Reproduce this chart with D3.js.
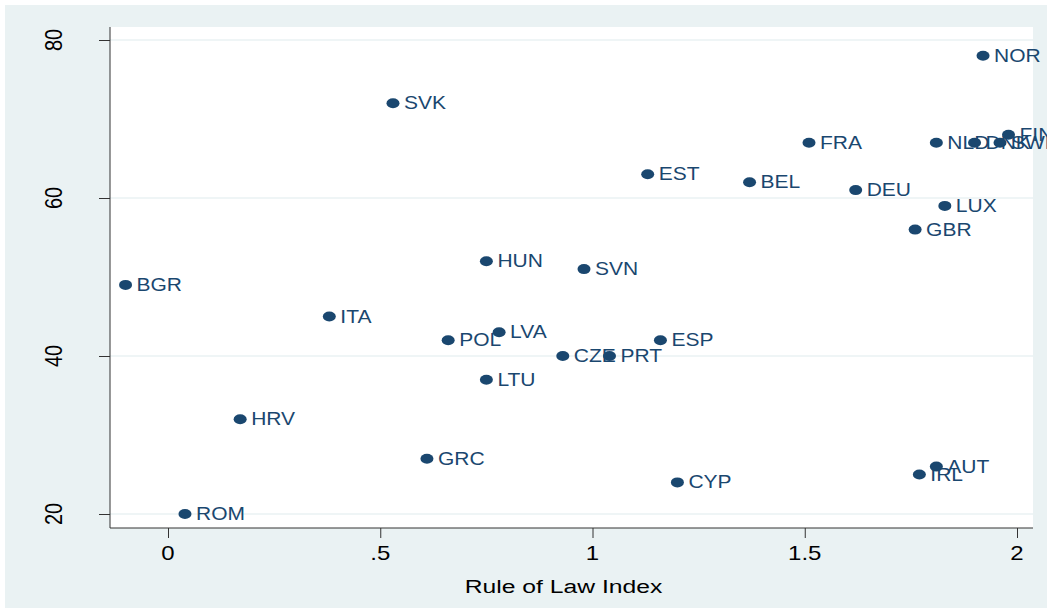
<!DOCTYPE html>
<html>
<head>
<meta charset="utf-8">
<script src="https://cdn.jsdelivr.net/npm/d3@7"></script>
<style>
  body { margin: 0; background: #fff; }
  text { font-family: Arial, "Liberation Sans", sans-serif; }
</style>
</head>
<body>
<div id="chart"></div>
<script>
// data
var countries = ["NOR","SVK","FIN","NLD","DNK","SWE","FRA","EST","BEL","DEU","LUX","GBR","HUN","SVN","BGR","ITA","LVA","POL","ESP","CZE","PRT","LTU","HRV","GRC","AUT","IRL","CYP","ROM"];
var lawIndex  = [1.92, 0.53, 1.98, 1.81, 1.90, 1.96, 1.51, 1.13, 1.37, 1.62, 1.83, 1.76, 0.75, 0.98, -0.10, 0.38, 0.78, 0.66, 1.16, 0.93, 1.04, 0.75, 0.17, 0.61, 1.81, 1.77, 1.20, 0.04];
var score     = [78, 72, 68, 67, 67, 67, 67, 63, 62, 61, 59, 56, 52, 51, 49, 45, 43, 42, 42, 40, 40, 37, 32, 27, 26, 25, 24, 20];
var xTicks = [0, 0.5, 1, 1.5, 2];
var xTickLabels = ["0", ".5", "1", "1.5", "2"];
var yTicks = [20, 40, 60, 80];

var W = 1047, H = 608;
var plot = {left: 110, top: 27, right: 1033, bottom: 528};
var navy = "#1a476f", bg = "#eaf2f3";
var sx = 1.2; // horizontal stretch of the original export

var x = d3.scaleLinear().domain([0, 2]).range([168, 1017]);
var y = d3.scaleLinear().domain([20, 80]).range([514, 40]);

var svg = d3.select("#chart").append("svg")
    .attr("width", W)
    .attr("height", H);

// graph region background
svg.append("rect")
    .attr("x", 5).attr("y", 5)
    .attr("width", W - 5).attr("height", H - 5)
    .attr("fill", bg);

// plot region
svg.append("rect")
    .attr("x", plot.left).attr("y", plot.top)
    .attr("width", plot.right - plot.left)
    .attr("height", plot.bottom - plot.top)
    .attr("fill", "#fff");

// gridlines
svg.selectAll(".grid").data(yTicks).enter().append("line")
    .attr("x1", plot.left).attr("x2", plot.right)
    .attr("y1", function(d) { return y(d); })
    .attr("y2", function(d) { return y(d); })
    .attr("stroke", bg)
    .attr("stroke-width", 1.5);

// Y axis
var yAxis = svg.append("g")
    .attr("transform", "translate(" + plot.left + ",0)")
    .call(d3.axisLeft(y).tickValues(yTicks).tickSize(11).tickPadding(0).tickFormat(""));
yAxis.select(".domain").attr("d", "M0," + plot.top + "V" + plot.bottom);
yAxis.selectAll("line").attr("stroke", "#333");
yAxis.select(".domain").attr("stroke", "#333");

svg.selectAll(".ylab").data(yTicks).enter().append("text")
    .attr("transform", function(d) { return "translate(62," + y(d) + ") scale(" + sx + ",1) rotate(-90)"; })
    .attr("text-anchor", "middle")
    .attr("font-size", 20)
    .attr("fill", "#000")
    .text(function(d) { return d; });

// X axis
var xAxis = svg.append("g")
    .attr("transform", "translate(0," + plot.bottom + ")")
    .call(d3.axisBottom(x).tickValues(xTicks).tickSize(10).tickFormat(""));
xAxis.select(".domain").attr("d", "M" + plot.left + ",0H" + plot.right);
xAxis.selectAll("line").attr("stroke", "#333");
xAxis.select(".domain").attr("stroke", "#333");

svg.selectAll(".xlab").data(xTicks).enter().append("text")
    .attr("transform", function(d) { return "translate(" + x(d) + ",560) scale(" + sx + ",1)"; })
    .attr("text-anchor", "middle")
    .attr("font-size", 20)
    .attr("fill", "#000")
    .text(function(d, i) { return xTickLabels[i]; });

// axis title
svg.append("text")
    .attr("transform", "translate(" + ((plot.left + plot.right) / 2 - 8) + ",593) scale(1.3,1)")
    .attr("text-anchor", "middle")
    .attr("font-size", 19)
    .attr("fill", "#000")
    .text("Rule of Law Index");

// points
var data = countries.map(function(c, i) { return {c: c, x: lawIndex[i], y: score[i]}; });

svg.selectAll(".dot").data(data).enter().append("ellipse")
    .attr("cx", function(d) { return x(d.x); })
    .attr("cy", function(d) { return y(d.y); })
    .attr("rx", 6.5)
    .attr("ry", 5)
    .attr("fill", navy);

svg.selectAll(".lab").data(data).enter().append("text")
    .attr("transform", function(d) { return "translate(" + (x(d.x) + 11) + "," + (y(d.y) + 6) + ") scale(" + sx + ",1)"; })
    .attr("font-size", 17.5)
    .attr("fill", navy)
    .text(function(d) { return d.c; });
</script>
</body>
</html>
